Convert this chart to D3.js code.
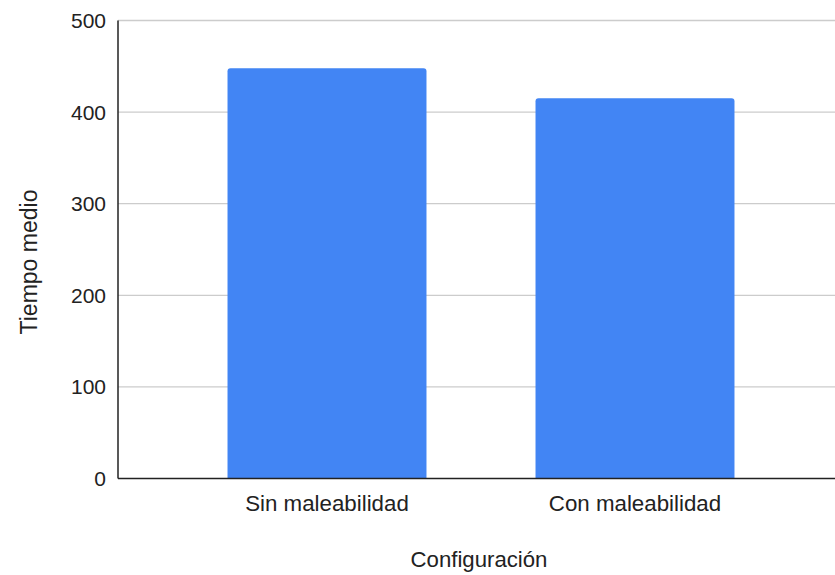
<!DOCTYPE html>
<html>
<head>
<meta charset="utf-8">
<script src="https://cdn.jsdelivr.net/npm/d3@7"></script>
<style>
  html, body { margin: 0; padding: 0; background: #fff; }
  svg { display: block; font-family: Arial, "Liberation Sans", sans-serif; }
</style>
</head>
<body>
<svg id="chart" width="835" height="575"></svg>
<script>
// Average time per configuration
const categories = ["Sin maleabilidad", "Con maleabilidad"];
const values = [448, 415];
const yTicks = [0, 100, 200, 300, 400, 500];
const xTitle = "Configuración";
const yTitle = "Tiempo medio";

const svg = d3.select("#chart");
const plot = { left: 118, right: 835, top: 20.5, bottom: 478.5 };

const y = d3.scaleLinear().domain([0, 500]).range([plot.bottom, plot.top]);
const x = d3.scaleBand().domain(categories).range([173, 789])
  .paddingInner(0.354).paddingOuter(0.177);

// horizontal gridlines
svg.append("g")
  .selectAll("line")
  .data(yTicks.filter(d => d > 0))
  .join("line")
  .attr("x1", plot.left).attr("x2", plot.right)
  .attr("y1", d => y(d)).attr("y2", d => y(d))
  .attr("stroke", "#cccccc").attr("stroke-width", 1.3);

// bars with slightly rounded top corners
const r = 3;
svg.append("g")
  .selectAll("path")
  .data(categories.map((c, i) => ({ c, v: values[i] })))
  .join("path")
  .attr("fill", "#4285f4")
  .attr("d", d => {
    const x0 = x(d.c), x1 = x0 + x.bandwidth();
    const yt = y(d.v), yb = y(0);
    return `M${x0},${yb} V${yt + r} Q${x0},${yt} ${x0 + r},${yt} H${x1 - r} Q${x1},${yt} ${x1},${yt + r} V${yb} Z`;
  });

// axis lines
svg.append("line")
  .attr("x1", plot.left).attr("x2", plot.left)
  .attr("y1", plot.top).attr("y2", plot.bottom)
  .attr("stroke", "#222").attr("stroke-width", 1.5);
svg.append("line")
  .attr("x1", plot.left).attr("x2", plot.right)
  .attr("y1", plot.bottom).attr("y2", plot.bottom)
  .attr("stroke", "#222").attr("stroke-width", 1.5);

// y tick labels
svg.append("g")
  .selectAll("text")
  .data(yTicks)
  .join("text")
  .attr("x", 106)
  .attr("y", d => y(d))
  .attr("dy", "0.36em")
  .attr("text-anchor", "end")
  .attr("font-size", 21)
  .attr("fill", "#222")
  .text(d => d);

// category labels
svg.append("g")
  .selectAll("text")
  .data(categories)
  .join("text")
  .attr("x", d => x(d) + x.bandwidth() / 2)
  .attr("y", 511)
  .attr("text-anchor", "middle")
  .attr("font-size", 22.3)
  .attr("fill", "#222")
  .text(d => d);

// axis titles
svg.append("text")
  .attr("x", 479).attr("y", 567)
  .attr("text-anchor", "middle")
  .attr("font-size", 22.2)
  .attr("fill", "#222")
  .text(xTitle);

svg.append("text")
  .attr("transform", "translate(37,262) rotate(-90)")
  .attr("text-anchor", "middle")
  .attr("font-size", 23)
  .attr("fill", "#222")
  .text(yTitle);
</script>
</body>
</html>
